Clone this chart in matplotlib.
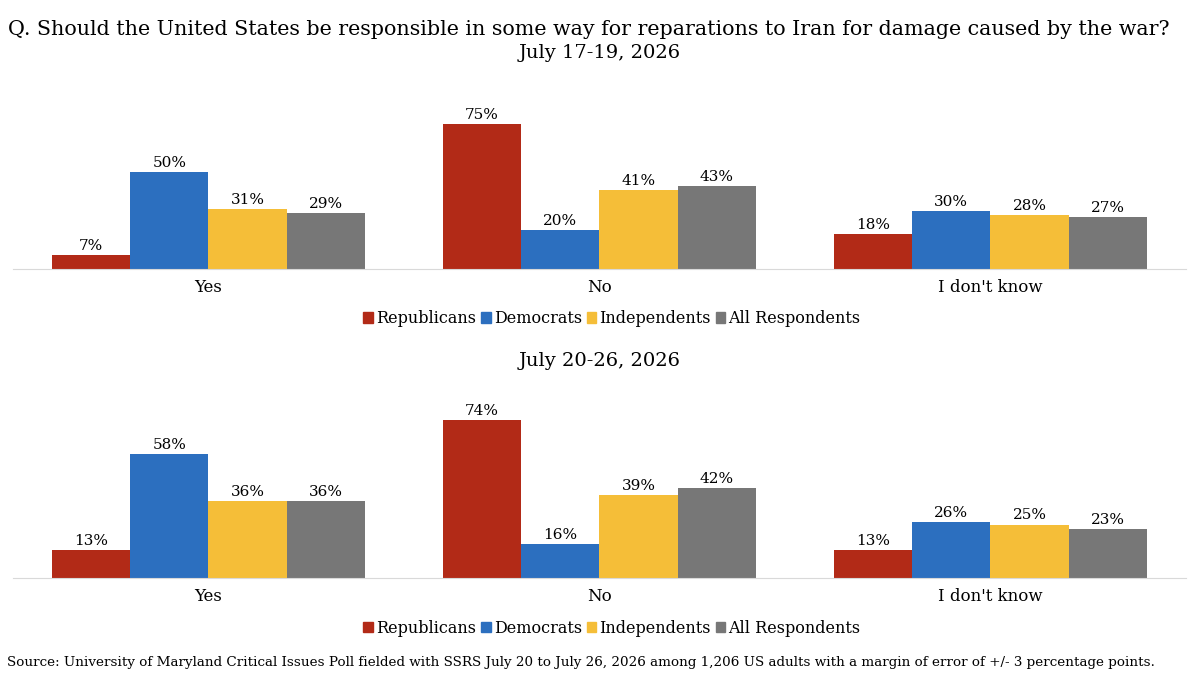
import matplotlib
matplotlib.use("Agg")
import numpy as np
import matplotlib.pyplot as plt
from matplotlib.patches import Patch

plt.rcParams['font.family'] = ['DejaVu Serif']

categories = ['Yes', 'No', "I don't know"]
groups = ['Republicans', 'Democrats', 'Independents', 'All Respondents']
colores = ['#B22A17', '#2C6FBF', '#F5BE38', '#777777']

wave1 = {'Republicans': [7, 75, 18], 'Democrats': [50, 20, 30],
         'Independents': [31, 41, 28], 'All Respondents': [29, 43, 27]}
wave2 = {'Republicans': [13, 74, 13], 'Democrats': [58, 16, 26],
         'Independents': [36, 39, 25], 'All Respondents': [36, 42, 23]}

fig = plt.figure(figsize=(12, 6.75), dpi=100)
fig.text(0.007, 0.957, 'Q. Should the United States be responsible in some way for reparations to Iran for damage caused by the war?',
         fontsize=14.9, ha='left', va='center')
fig.text(0.5, 0.922, 'July 17-19, 2026', fontsize=14, ha='center', va='center')
fig.text(0.5, 0.465, 'July 20-26, 2026', fontsize=14, ha='center', va='center')
fig.text(0.006, 0.019, 'Source: University of Maryland Critical Issues Poll fielded with SSRS July 20 to July 26, 2026 among 1,206 US adults with a margin of error of +/- 3 percentage points.',
         fontsize=9.7, ha='left', va='center')


def panel(rect, data, ylim, legend_y):
    ax = fig.add_axes(rect)
    x = np.arange(len(categories))
    w = 0.2
    for i, g in enumerate(groups):
        pos = x - 0.3 + i * w
        bars = ax.bar(pos, data[g], w, color=colores[i])
        for b, v in zip(bars, data[g]):
            ax.text(b.get_x() + w / 2, v + 1, f'{v}%', ha='center', va='bottom', fontsize=11)
    ax.set_xlim(-0.5, 2.5)
    ax.set_ylim(0, ylim)
    ax.set_yticks([])
    ax.set_xticks(x)
    ax.set_xticklabels(categories, fontsize=12)
    ax.tick_params(axis='x', length=0, pad=7)
    for s in ['top', 'right', 'left']:
        ax.spines[s].set_visible(False)
    ax.spines['bottom'].set_color('#D9D9D9')
    handles = [Patch(color=c) for c in colores]
    fig.legend(handles, groups, loc='center', bbox_to_anchor=(0.51, legend_y), ncol=4,
               frameon=False, fontsize=11.5, handlelength=0.6, handleheight=0.6,
               handletextpad=0.2, columnspacing=0.3)
    return ax


panel([0.0108, 0.6015, 0.9775, 0.2296], wave1, 80, 0.528)
panel([0.0108, 0.1437, 0.9775, 0.2533], wave2, 80, 0.069)

plt.savefig('out.png', dpi=100)
